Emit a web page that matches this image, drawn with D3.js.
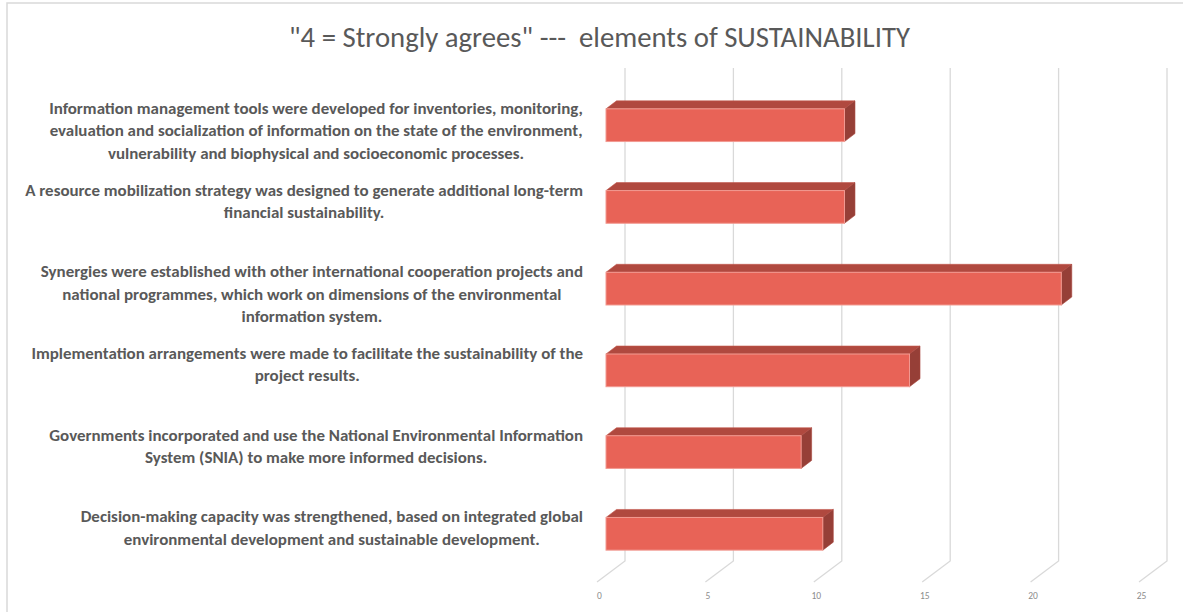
<!DOCTYPE html>
<html>
<head>
<meta charset="utf-8">
<script src="https://cdn.jsdelivr.net/npm/d3@7"></script>
<style>
  html, body { margin: 0; padding: 0; background: #ffffff; }
  svg { display: block; }
</style>
</head>
<body>
<svg id="chart" width="1183" height="612"></svg>
<script>
// Category labels (one entry per bar, split into the printed lines)
const categories = [
  ["Information management tools were developed for inventories, monitoring,",
   "evaluation and socialization of information on the state of the environment,",
   "vulnerability and biophysical and socioeconomic processes."],
  ["A resource mobilization strategy was designed to generate additional long-term",
   "financial sustainability."],
  ["Synergies were established with other international cooperation projects and",
   "national programmes, which work on dimensions of the environmental",
   "information system."],
  ["Implementation arrangements were made to facilitate the sustainability of the",
   "project results."],
  ["Governments incorporated and use the National Environmental Information",
   "System (SNIA) to make more informed decisions."],
  ["Decision-making capacity was strengthened, based on integrated global",
   "environmental development and sustainable development."]
];

// Number of respondents answering "4 = Strongly agrees"
const values = [11, 11, 21, 14, 9, 10];

// Value axis ticks
const ticks = [0, 5, 10, 15, 20, 25];

const titleText = "\"4 = Strongly agrees\" ---  elements of SUSTAINABILITY";

const svg = d3.select("#chart");
const FONT = "Carlito, Lato, 'Liberation Sans', sans-serif";

// Outer chart frame
svg.append("rect")
  .attr("x", 7).attr("y", 3)
  .attr("width", 1250).attr("height", 700)
  .attr("fill", "none")
  .attr("stroke", "#d9d9d9")
  .attr("stroke-width", 1.5);

// Scales (front plane of the bars)
const x = d3.scaleLinear().domain([0, 25]).range([606, 1148]);
const y = d3.scaleBand()
  .domain(d3.range(categories.length))
  .range([68, 591])
  .paddingInner(0.6)
  .paddingOuter(0.5);

// 3D offsets
const wallDX = 19, wallTop = 68, wallBottom = 561;
const floorDX = -9, floorFront = 582;
const depthDX = 10.5, depthDY = -8;

// Back-wall gridlines and floor lines
const grid = svg.append("g").attr("stroke", "#d9d9d9").attr("stroke-width", 1.3).attr("fill", "none");
grid.selectAll("path.grid")
  .data(ticks)
  .join("path")
  .attr("class", "grid")
  .attr("d", v => `M${x(v) + wallDX},${wallTop}L${x(v) + wallDX},${wallBottom}L${x(v) + floorDX},${floorFront}`);

// Tick labels along the front edge of the floor
const axis = d3.axisBottom(x).tickValues(ticks).tickSize(0).tickPadding(0);
const axisG = svg.append("g")
  .attr("transform", `translate(-7, 592)`)
  .call(axis);
axisG.select(".domain").remove();
axisG.selectAll("text")
  .attr("fill", "#8c8c8c")
  .style("font-family", FONT)
  .style("font-size", "9.5px");

// Bars as 3D boxes
const bars = svg.append("g");
values.forEach((v, i) => {
  const x0 = x(0), x1 = x(v), y0 = y(i), h = y.bandwidth();
  const g = bars.append("g");
  // top face
  g.append("path")
    .attr("d", `M${x0},${y0}L${x1},${y0}L${x1 + depthDX},${y0 + depthDY}L${x0 + depthDX},${y0 + depthDY}Z`)
    .attr("fill", "#b0493f")
    .attr("stroke", "#c2574c").attr("stroke-width", 0.6);
  // right side face
  g.append("path")
    .attr("d", `M${x1},${y0}L${x1 + depthDX},${y0 + depthDY}L${x1 + depthDX},${y0 + h + depthDY}L${x1},${y0 + h}Z`)
    .attr("fill", "#963f37")
    .attr("stroke", "#a9473e").attr("stroke-width", 0.6);
  // front face
  g.append("rect")
    .attr("x", x0).attr("y", y0)
    .attr("width", x1 - x0).attr("height", h)
    .attr("fill", "#e86357")
    .attr("stroke", "#f29a91").attr("stroke-width", 1);
});

// Category labels: each block right-aligned, lines centred inside the block
const labelRight = x(0) - 23;
const lineGap = 22.5;
const labels = svg.append("g")
  .attr("fill", "#595959")
  .style("font-family", FONT)
  .style("font-weight", "bold");

// size the label font so the widest line spans the label column
const probe = labels.append("text").style("font-size", "16px");
let widest = 0;
categories.flat().forEach(t => { probe.text(t); widest = Math.max(widest, probe.node().getComputedTextLength()); });
probe.remove();
const labelSize = 16 * 558 / widest;
labels.style("font-size", labelSize + "px");

categories.forEach((lines, i) => {
  const block = labels.append("g");
  const texts = block.selectAll("text")
    .data(lines)
    .join("text")
    .attr("y", (d, j) => y(i) - 1 + j * lineGap)
    .attr("dy", "0.35em")
    .attr("text-anchor", "middle")
    .text(d => d);
  let w = 0;
  texts.each(function () { w = Math.max(w, this.getComputedTextLength()); });
  texts.attr("x", labelRight - w / 2);
});

// Title
const title = svg.append("text")
  .attr("x", 599.5)
  .attr("y", 47)
  .attr("text-anchor", "middle")
  .attr("fill", "#595959")
  .style("font-family", FONT)
  .style("white-space", "pre")
  .attr("xml:space", "preserve")
  .style("font-size", "24px")
  .text(titleText);
const tw = title.node().getComputedTextLength();
title.style("font-size", (24 * 621 / tw) + "px");
</script>
</body>
</html>
